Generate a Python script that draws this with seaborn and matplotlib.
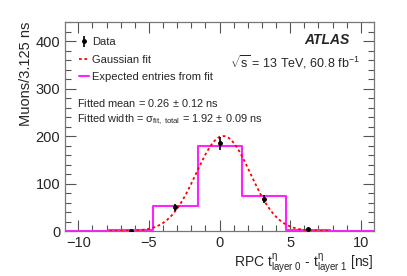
import numpy as np
import pandas as pd
import seaborn as sns
import matplotlib.pyplot as plt
from matplotlib.lines import Line2D
from matplotlib.ticker import MultipleLocator

sns.set_theme(style="ticks")
plt.rcParams['font.family'] = ['Liberation Sans', 'DejaVu Sans']
plt.rcParams['mathtext.fontset'] = 'custom'
plt.rcParams['mathtext.rm'] = 'Liberation Sans'
plt.rcParams['mathtext.it'] = 'Liberation Sans'

# binned data (bin width 3.125 ns)
bin_centers = [-9.375, -6.25, -3.125, 0.0, 3.125, 6.25, 9.375]
data_counts = [0, 1, 50, 185, 68, 4, 0]
expected_counts = [0, 2, 52, 180, 74, 3, 0]
# gaussian fit parameters
fit_mean = 0.26
fit_sigma = 1.92
fit_amp = 200

edges = [-10.9375 + 3.125 * i for i in range(8)]
df = pd.DataFrame({'t': bin_centers, 'expected': expected_counts, 'data': data_counts})

fig, ax = plt.subplots(figsize=(4.07, 2.76), dpi=100)
fig.subplots_adjust(left=0.16, right=0.919, bottom=0.163, top=0.92)

sns.histplot(data=df, x='t', weights='expected', bins=edges, element='step', fill=False,
             color='#ff22ff', linewidth=1.5, ax=ax)

xs = np.linspace(-7.8, 7.8, 300)
gauss = pd.DataFrame({'x': xs, 'y': fit_amp * np.exp(-0.5 * ((xs - fit_mean) / fit_sigma) ** 2)})
sns.lineplot(data=gauss, x='x', y='y', color='red', linestyle=(0, (1.5, 1.5)), linewidth=1.3, ax=ax)

pts = df[(df['t'] > -8) & (df['t'] < 8)]
eb = ax.errorbar(pts['t'], pts['data'], yerr=np.sqrt(pts['data']), fmt='o', color='black',
                 markersize=2.5, elinewidth=1.2, capsize=0, zorder=5)

ax.set_xlim(-10.9375, 10.9375)
ax.set_ylim(0, 440)
ax.xaxis.set_major_locator(MultipleLocator(5))
ax.xaxis.set_minor_locator(MultipleLocator(1))
ax.yaxis.set_major_locator(MultipleLocator(100))
ax.yaxis.set_minor_locator(MultipleLocator(20))
ax.tick_params(which='both', direction='in', top=True, right=True, labelsize=10.5, color='#555555')
ax.tick_params(which='major', length=8, width=0.8)
ax.tick_params(which='minor', length=4, width=0.8)
for s in ax.spines.values():
    s.set_color('#777777')
    s.set_linewidth(0.9)

ax.set_xlabel(r'RPC t$^{\eta}_{\mathrm{layer\ 0}}$ - t$^{\eta}_{\mathrm{layer\ 1}}$ [ns]', fontsize=10,
              loc='right', labelpad=1)
ax.set_ylabel('Muons/3.125 ns', fontsize=10.5, loc='top', labelpad=2)

handles = [
    eb,
    Line2D([0], [0], color='red', linestyle=(0, (1.5, 1.5)), linewidth=1.3),
    Line2D([0], [0], color='#ff22ff', linewidth=1.5),
]
ax.legend(handles, ['Data', 'Gaussian fit', 'Expected entries from fit'], loc='upper left',
          bbox_to_anchor=(0.02, 0.965), frameon=False, fontsize=8, handlelength=0.9,
          handletextpad=0.3, labelspacing=0.68, borderaxespad=0.3)

ax.text(0.922, 0.914, 'ATLAS', transform=ax.transAxes, ha='right', va='center',
        fontsize=10, fontweight='bold', fontstyle='italic')
ax.text(0.955, 0.81, r'$\sqrt{s}$ = 13 TeV, 60.8 fb$^{-1}$', transform=ax.transAxes,
        ha='right', va='center', fontsize=9)
ax.text(0.039, 0.614, r'Fitted mean = 0.26 $\pm$ 0.12 ns', transform=ax.transAxes,
        ha='left', va='center', fontsize=7.95)
ax.text(0.039, 0.531, r'Fitted width = $\sigma_{\mathrm{fit,\ total}}$ = 1.92 $\pm$ 0.09 ns',
        transform=ax.transAxes, ha='left', va='center', fontsize=7.95)

fig.savefig('out.png', dpi=100)
